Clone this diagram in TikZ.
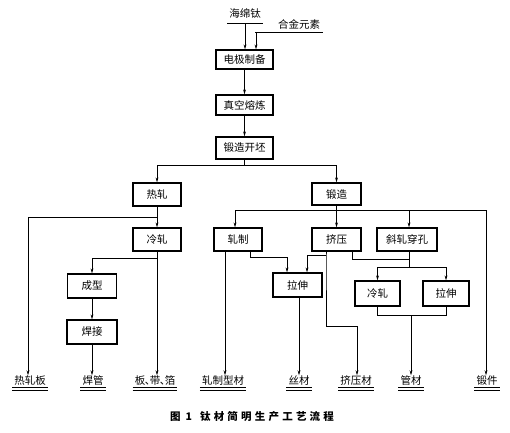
\documentclass[tikz,border=0pt]{standalone}
\usepackage{fontspec}
\newfontfamily\cjk{Noto Sans CJK SC}
\usetikzlibrary{arrows.meta}
\tikzset{
  box/.style={draw, line width=1.2pt, inner sep=0pt, font=\cjk\fontsize{10.5}{12}\selectfont},
  lab/.style={inner sep=0.5pt, text height=8.5pt, text depth=1.5pt, font=\cjk\fontsize{10.5}{12}\selectfont},
  ln/.style={line width=0.7pt},
  arr/.style={ln, -{Stealth[length=5pt,width=2.8pt]}},
  dul/.style={line width=0.7pt},
}
\begin{document}
\begin{tikzpicture}[x=1pt,y=-1pt]
\useasboundingbox (0,0) rectangle (510,432);
% top inputs
\node[lab] (hmt) at (245,14) {海绵钛};
\node[lab] (hjys) at (299,24.5) {合金元素};
\coordinate (u1a) at (227,23); \coordinate (u1b) at (263,23);
\coordinate (u2a) at (255,32); \coordinate (u2b) at (323,32);
\draw[ln] (u1a) -- (u1b);
\draw[ln] (u2a) -- (u2b);
% boxes
\node[box, minimum width=57pt, minimum height=19pt] (b1) at (244.5,59.5) {电极制备};
\node[box, minimum width=57pt, minimum height=20pt] (b2) at (244.5,105) {真空熔炼};
\node[box, minimum width=57pt, minimum height=22pt] (b3) at (244.5,148) {锻造开坯};
\node[box, minimum width=48pt, minimum height=23pt] (rz) at (157,194.5) {热轧};
\node[box, minimum width=48pt, minimum height=23pt] (lz1) at (157,239.5) {冷轧};
\node[box, minimum width=49pt, minimum height=24pt] (cx) at (92,286) {成型};
\node[box, minimum width=50pt, minimum height=24pt] (hj) at (92,332) {焊接};
\node[box, minimum width=49pt, minimum height=22pt] (dz) at (336.5,194) {锻造};
\node[box, minimum width=48pt, minimum height=23pt] (zz) at (238,239.5) {轧制};
\node[box, minimum width=49pt, minimum height=23pt] (jy) at (336.5,239.5) {挤压};
\node[box, minimum width=60pt, minimum height=23pt] (xz) at (407,239.5) {斜轧穿孔};
\node[box, minimum width=49pt, minimum height=24pt] (ls1) at (297.5,285) {拉伸};
\node[box, minimum width=45pt, minimum height=25pt] (lz2) at (377.5,293.5) {冷轧};
\node[box, minimum width=46pt, minimum height=25pt] (ls2) at (446,293.5) {拉伸};
% bottom labels
\node[lab] (l1) at (30,381) {热轧板};
\node[lab] (l2) at (93,381) {焊管};
\node[lab] (l3) at (155,381) {板\kern-0.5pt、\kern-5.5pt带\kern-0.5pt、\kern-5.5pt箔};
\node[lab] (l4) at (223,381) {轧制型材};
\node[lab] (l5) at (299,381) {丝材};
\node[lab] (l6) at (356,381) {挤压材};
\node[lab] (l7) at (411,381) {管材};
\node[lab] (l8) at (487,381) {锻件};
\foreach \n in {l1,l2,l3,l4,l5,l6,l7,l8}{
  \draw[dul] ([xshift=-1.5pt,yshift=-1pt]\n.south west) -- ([xshift=1.5pt,yshift=-1pt]\n.south east);
  \draw[dul] ([xshift=-1.5pt,yshift=-4pt]\n.south west) -- ([xshift=1.5pt,yshift=-4pt]\n.south east);
}
% caption
\node[font=\cjk\bfseries\fontsize{10.5}{12}\selectfont, inner sep=0pt] (cap1) at (181,417) {图\kern5pt 1};
\node[font=\cjk\bfseries\fontsize{10.5}{12}\selectfont, inner sep=0pt] (cap2) at (267,417)
  {钛\kern3.2pt 材\kern3.2pt 简\kern3.2pt 明\kern3.2pt 生\kern3.2pt 产\kern3.2pt 工\kern3.2pt 艺\kern3.2pt 流\kern3.2pt 程};
% main chain
\coordinate (s1) at (245,23);
\coordinate (s2) at (256,32);
\draw[arr] (s1) -- (s1 |- b1.north);
\draw[arr] (s2) -- (s2 |- b1.north);
\draw[arr] (b1) -- (b2);
\draw[arr] (b2) -- (b3);
\coordinate (g0) at (157,165);
\coordinate (f0) at (336.5,165);
\draw[ln] (b3.south) -- (b3.south |- f0);
\draw[ln] (g0) -- (f0);
\draw[arr] (g0) -- (rz.north);
\draw[arr] (f0) -- (dz.north);
% hot rolling branch
\coordinate (h1) at (28,217);
\coordinate (h2) at (157,217);
\draw[ln] (rz.south) -- (h2);
\draw[ln] (h2) -- (h1);
\draw[arr] (h1) -- (h1 |- l1.north);
\draw[arr] (h2) -- (lz1.north);
\draw[arr] (lz1.south) -- (lz1.south |- l3.north);
\coordinate (h3) at (157,258);
\coordinate (h4) at (92,258);
\draw[ln] (h3) -- (h4);
\draw[arr] (h4) -- (cx.north);
\draw[arr] (cx) -- (hj);
\draw[arr] (hj.south) -- (hj.south |- l2.north);
% forging branch
\coordinate (k1) at (235,210);
\coordinate (k2) at (486,210);
\coordinate (k3) at (409,210);
\coordinate (k4) at (336.5,210);
\draw[ln] (dz.south) -- (k4);
\draw[ln] (k1) -- (k2);
\draw[arr] (k1) -- (k1 |- zz.north);
\draw[arr] (k4) -- (jy.north);
\draw[arr] (k3) -- (k3 |- xz.north);
\draw[arr] (k2) -- (k2 |- l8.north);
% rolling
\coordinate (r1) at (225,251);
\draw[arr] (r1 |- zz.south) -- (r1 |- l4.north);
\coordinate (r2) at (250,257);
\coordinate (r3) at (287,257);
\draw[ln] (r2 |- zz.south) -- (r2) -- (r3);
\draw[arr] (r3) -- (r3 |- ls1.north);
\draw[arr] (ls1.south -| l5) -- (l5.north);
% extrusion
\coordinate (e1) at (326,255);
\coordinate (e2) at (307,255);
\coordinate (e3) at (326,326);
\coordinate (e4) at (357,326);
\draw[ln] (e1 |- jy.south) -- (e1) -- (e3) -- (e4);
\draw[arr] (e4) -- (e4 |- l6.north);
\draw[ln] (e1) -- (e2);
\draw[arr] (e2) -- (e2 |- ls1.north);
\coordinate (e5) at (352,259);
\coordinate (e6) at (409,259);
\draw[ln] (e5 |- jy.south) -- (e5) -- (e6);
% piercing
\coordinate (p1) at (409,267);
\coordinate (p2) at (377.5,267);
\coordinate (p3) at (446,267);
\draw[ln] (p1 |- xz.south) -- (p1);
\draw[ln] (p2) -- (p3);
\draw[arr] (p2) -- (lz2.north);
\draw[arr] (p3) -- (ls2.north);
\coordinate (q1) at (377.5,315);
\coordinate (q2) at (446,315);
\coordinate (q3) at (411,315);
\draw[ln] (lz2.south) -- (q1) -- (q2) -- (ls2.south);
\draw[arr] (q3) -- (q3 |- l7.north);
\end{tikzpicture}
\end{document}
